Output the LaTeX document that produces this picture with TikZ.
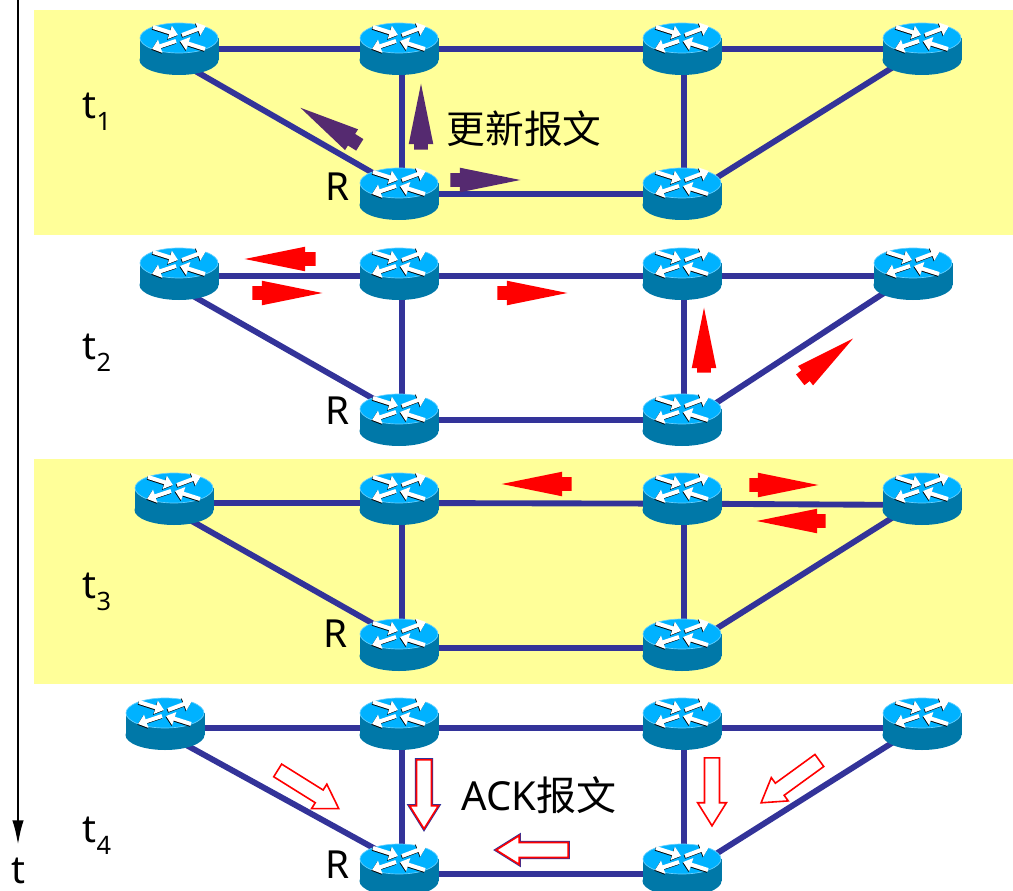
\documentclass[tikz,border=0pt]{standalone}
\usepackage{fontspec}
\setmainfont{Noto Sans}
\newfontfamily\cjk{Noto Sans CJK SC}
\usetikzlibrary{arrows.meta,backgrounds,shapes.arrows}
\definecolor{bandyellow}{HTML}{FFFF99}
\definecolor{linkblue}{HTML}{333399}
\definecolor{updatepurple}{HTML}{552A70}
\definecolor{routertop}{HTML}{00B2FF}
\definecolor{routeredge}{HTML}{66D0FF}
\definecolor{routerside}{HTML}{0078A8}
\newcommand{\timelabel}[1]{t\raisebox{-.3em}{\fontsize{19}{20}\selectfont #1}}
\begin{document}
\begin{tikzpicture}
[x=.75pt, y=-.75pt,
routernode/.style={rectangle, inner sep=0pt, minimum width=60pt, minimum height=39.5pt, path picture={
  \begin{scope}[shift={(path picture bounding box.center)}]
  \fill[routerside] (-39.5,-11) rectangle (39.5,11);
  \fill[routerside] (0,11) ellipse [x radius=39.5, y radius=15];
  \fill[routertop, draw=routeredge, line width=.5pt] (0,-11) ellipse [x radius=39, y radius=15];
  \foreach \xa/\ya/\xb/\yb in {-26/-22/-1/-14, 3/-14/27/-23, -3/-8/-27/0, 26/0/1/-8} {
    \draw[black, line width=3pt, -{Triangle[length=6.5pt,width=10pt]}] (\xa-.6,\ya+.8) -- (\xb-.6,\yb+.8);
    \draw[white, line width=3pt, -{Triangle[length=6.5pt,width=10pt]}] (\xa,\ya) -- (\xb,\yb);
  }
  \end{scope}}},
connect/.style={draw=linkblue, line width=4.4pt},
arrowbase/.style={single arrow, inner xsep=0pt, anchor=tail, minimum height=#1*.75pt},
updatearrow/.style={arrowbase=#1, fill=updatepurple, inner ysep=4.9pt, minimum width=18pt, single arrow head extend=4.1pt, single arrow tip angle=23},
floodarrow/.style={arrowbase=#1, fill=red, inner ysep=4.9pt, minimum width=18pt, single arrow head extend=4.1pt, single arrow tip angle=23},
ackarrow/.style={arrowbase=#1, fill=white, draw=red, line width=1.2pt, inner ysep=5pt, minimum width=21pt, single arrow head extend=5.2pt, single arrow tip angle=64},
ackoutline/.style={ackarrow=#1, preaction={draw=linkblue, line width=2.4pt}},
biglabel/.style={font=\fontsize{29}{30}\selectfont, inner sep=0pt}]
\useasboundingbox (0,0) rectangle (1013,891);

% t1
\node[routernode] (a1) at (179,49) {};
\node[routernode] (b1) at (399,49) {};
\node[routernode] (c1) at (682,49) {};
\node[routernode] (d1) at (922,49) {};
\node[routernode] (r1) at (399,194) {};
\node[routernode] (e1) at (682,194) {};
% t2
\node[routernode] (a2) at (179,274) {};
\node[routernode] (b2) at (399,274) {};
\node[routernode] (c2) at (682,274) {};
\node[routernode] (d2) at (913,274) {};
\node[routernode] (r2) at (399,420) {};
\node[routernode] (e2) at (682,420) {};
% t3
\node[routernode] (a3) at (174,499) {};
\node[routernode] (b3) at (399,499) {};
\node[routernode] (c3) at (682,499) {};
\node[routernode] (d3) at (922,499) {};
\node[routernode] (r3) at (399,645) {};
\node[routernode] (e3) at (682,645) {};
% t4
\node[routernode] (a4) at (165,724) {};
\node[routernode] (b4) at (399,724) {};
\node[routernode] (c4) at (682,724) {};
\node[routernode] (d4) at (922,724) {};
\node[routernode] (r4) at (399,870) {};
\node[routernode] (e4) at (682,870) {};

\begin{scope}[on background layer]
\fill[bandyellow] (34,10) rectangle (1013,235);
\fill[bandyellow] (34,459) rectangle (1013,684);
\draw[connect] (a1.center) -- (b1.center);
\draw[connect] (b1.center) -- (c1.center);
\draw[connect] (c1.center) -- (d1.center);
\draw[connect] (r1.center) -- (e1.center);
\draw[connect] ([yshift=-9.5pt]a1.center) -- ([yshift=4.5pt]r1.center);
\draw[connect] ([xshift=2pt]b1.center) -- ([xshift=2pt]r1.center);
\draw[connect] ([xshift=1.5pt]c1.center) -- ([xshift=1.5pt]e1.center);
\draw[connect] (d1.center) -- ([yshift=-4pt]e1.center);
\draw[connect] ([yshift=-1.5pt]a2.center) -- ([yshift=-1.5pt]b2.center);
\draw[connect] ([yshift=-1.5pt]b2.center) -- ([yshift=-1.5pt]c2.center);
\draw[connect] ([yshift=-1.5pt]c2.center) -- ([yshift=-1.5pt]d2.center);
\draw[connect] (r2.center) -- (e2.center);
\draw[connect] ([yshift=-10.5pt]a2.center) -- ([yshift=5pt]r2.center);
\draw[connect] ([xshift=2pt]b2.center) -- ([xshift=2pt]r2.center);
\draw[connect] ([xshift=1.5pt]c2.center) -- ([xshift=1.5pt]e2.center);
\draw[connect] (d2.center) -- ([yshift=-4pt]e2.center);
\draw[connect] ([yshift=-3pt]a3.center) -- ([yshift=-3pt]b3.center);
\draw[connect] ([yshift=-3pt]b3.center) -- ([yshift=-3.5pt]c3.center);
\draw[connect] ([yshift=-3.5pt]c3.center) -- ([yshift=-4.5pt]d3.center);
\draw[connect] ([yshift=-2pt]r3.center) -- ([yshift=-2pt]e3.center);
\draw[connect] ([yshift=-9pt]a3.center) -- ([yshift=5pt]r3.center);
\draw[connect] ([xshift=2pt]b3.center) -- ([xshift=2pt]r3.center);
\draw[connect] ([xshift=1.5pt]c3.center) -- ([xshift=1.5pt]e3.center);
\draw[connect] (d3.center) -- ([yshift=-4pt]e3.center);
\draw[connect] ([yshift=-3pt]a4.center) -- ([yshift=-3pt]b4.center);
\draw[connect] ([yshift=-3pt]b4.center) -- ([yshift=-3pt]c4.center);
\draw[connect] ([yshift=-3pt]c4.center) -- ([yshift=-3pt]d4.center);
\draw[connect] ([yshift=-3pt]r4.center) -- ([yshift=-3pt]e4.center);
\draw[connect] ([yshift=-7pt]a4.center) -- ([yshift=6pt]r4.center);
\draw[connect] ([xshift=2pt]b4.center) -- ([xshift=2pt]r4.center);
\draw[connect] ([xshift=1.5pt]c4.center) -- ([xshift=1.5pt]e4.center);
\draw[connect] (d4.center) -- ([yshift=-4pt]e4.center);
\end{scope}

% time axis
\node[biglabel] (tnode) at (18,871) {t};
\coordinate (timetop) at (18,0);
\draw[line width=2.2pt, -{Latex[length=19pt,width=8.5pt]}, shorten >=9pt] (timetop) -- (tnode.north);

\node[biglabel] (label1) at (97,112) {\timelabel{1}};
\node[biglabel] (label2) at (97,353) {\timelabel{2}};
\node[biglabel] (label3) at (97,592) {\timelabel{3}};
\node[biglabel] (label4) at (97,836) {\timelabel{4}};
\node[biglabel] (rname1) at (338,187) {R};
\node[biglabel] (rname2) at (338,411) {R};
\node[biglabel] (rname3) at (336,634) {R};
\node[biglabel] (rname4) at (338,865) {R};
\node[biglabel] (updatetext) at (524,129) {\cjk 更新报文};
\node[biglabel, font=\fontsize{30}{31}\selectfont] (acktext) at (539,795) {ACK{\cjk 报文}};

% update messages
\node[updatearrow=66, rotate=90] (up1) at (421,150) {};
\node[updatearrow=70, rotate=148] (up2) at (360,145) {};
\node[updatearrow=70] (up3) at (450,180) {};

% flooding
\node[floodarrow=71, rotate=180] (fl1) at (316,259) {};
\node[floodarrow=70] (fl2) at (252,293) {};
\node[floodarrow=70] (fl3) at (497,293) {};
\node[floodarrow=65, rotate=90] (fl4) at (704,373) {};
\node[floodarrow=67, rotate=38] (fl5) at (800,380) {};
\node[floodarrow=70, rotate=180] (fl6) at (572,484) {};
\node[floodarrow=69] (fl7) at (749,485) {};
\node[floodarrow=69, rotate=180] (fl8) at (826,521) {};

% acknowledgements
\node[ackarrow=72, rotate=-32] (ack1) at (277,770) {};
\node[ackoutline=69, rotate=-90] (ack2) at (424,759) {};
\node[ackarrow=68, rotate=-90] (ack3) at (712,757) {};
\node[ackarrow=72, rotate=216] (ack4) at (820,760) {};
\node[ackoutline=72, rotate=180] (ack5) at (569,850) {};
\end{tikzpicture}
\end{document}
